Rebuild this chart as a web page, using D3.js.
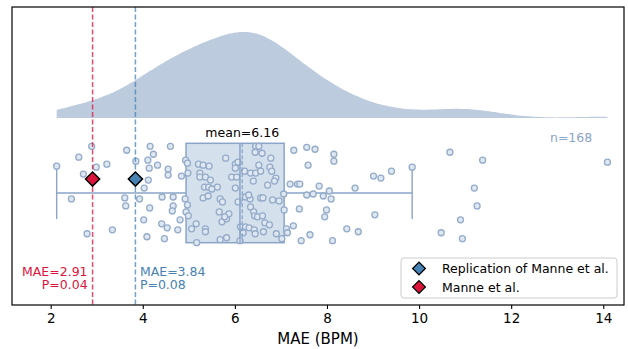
<!DOCTYPE html>
<html>
<head>
<meta charset="utf-8">
<script src="https://cdn.jsdelivr.net/npm/d3@7"></script>
<style>
  body { margin: 0; background: #fff; }
  svg { display: block; font-family: "DejaVu Sans", sans-serif; }
</style>
</head>
<body>
<div id="chart"></div>
<script>
// MAE per model (BPM)
const maeValues = [
  2.13, 2.61, 2.89, 2.71, 2.99, 3.22, 2.45, 2.79, 3.34, 3.65, 3.85, 4.16, 4.23, 4.60, 4.11, 4.14,
  4.32, 4.55, 4.55, 4.12, 4.03, 3.61, 3.63, 3.93, 4.15, 4.42, 4.66, 4.66, 4.64, 4.02, 4.41, 4.53,
  4.76, 4.81, 4.09, 4.47, 4.84, 4.93, 4.97, 4.92, 4.97, 4.94, 4.99, 5.17, 5.06, 5.36, 5.36, 5.16,
  5.31, 5.42, 5.21, 5.31, 5.44, 5.24, 5.24, 5.36, 5.47, 5.34, 5.43, 5.50, 5.62, 5.68, 5.73, 5.66,
  5.72, 5.82, 5.87, 5.68, 5.82, 5.80, 5.93, 6.04, 6.01, 6.01, 6.07, 6.07, 6.12, 6.11, 6.18, 6.23,
  6.31, 6.42, 6.45, 6.52, 6.44, 6.59, 6.78, 6.52, 6.76, 6.80, 6.34, 6.45, 6.56, 6.21, 6.40, 6.71,
  6.89, 6.86, 6.23, 6.33, 6.56, 6.61, 6.82, 6.96, 6.34, 6.41, 6.43, 6.49, 6.60, 6.65, 6.75, 6.44,
  6.62, 6.90, 7.02, 7.06, 7.07, 7.28, 7.56, 7.74, 7.59, 7.20, 7.36, 7.41, 7.56, 7.70, 7.40, 7.27,
  7.12, 7.14, 7.44, 7.63, 7.83, 8.15, 8.15, 7.92, 8.05, 8.09, 7.99, 7.95, 8.61, 8.43, 8.68, 8.12,
  9.01, 9.17, 9.40, 9.85, 9.04, 10.67, 11.38, 11.20, 11.26, 10.90, 10.94, 10.48, 14.09, 4.98, 6.01,
  6.30, 5.78
]
// vertical jitter of each point (box spans -0.5..0.5)
const jitter = [
  0.27, 0.36, 0.47, 0.19, 0.26, 0.29, -0.06, -0.41, -0.37, 0.43, 0.32, 0.47, 0.39, 0.47, 0.33, 0.25,
  0.28, 0.24, 0.18, 0.13, 0.05, -0.05, -0.13, -0.06, -0.15, -0.04, -0.04, -0.13, -0.18, -0.27, -0.31, -0.35,
  -0.37, -0.27, -0.44, -0.46, 0.17, 0.33, 0.30, -0.06, -0.12, -0.19, -0.23, -0.50, -0.36, -0.36, -0.39, -0.31,
  -0.05, -0.03, 0.29, 0.28, 0.27, 0.20, 0.16, 0.16, 0.13, 0.06, 0.06, 0.04, 0.06, -0.06, -0.09, -0.19,
  -0.29, -0.26, -0.21, -0.47, -0.45, 0.35, 0.16, 0.16, 0.05, 0.29, 0.31, -0.09, -0.34, -0.48, -0.40, -0.34,
  -0.35, -0.37, 0.47, 0.47, 0.41, 0.40, 0.35, 0.28, 0.26, 0.22, 0.20, 0.20, 0.22, 0.22, 0.12, 0.08,
  0.15, 0.12, -0.04, -0.06, -0.05, -0.05, -0.07, -0.08, -0.14, -0.19, -0.23, -0.24, -0.23, -0.30, -0.32, -0.41,
  -0.39, -0.41, -0.46, -0.01, -0.17, 0.43, 0.46, 0.44, 0.28, 0.09, 0.09, 0.09, -0.02, -0.01, -0.16, -0.33,
  -0.36, -0.40, -0.48, -0.42, 0.07, 0.39, 0.32, -0.03, 0.02, -0.06, -0.17, -0.24, 0.05, -0.36, -0.39, -0.48,
  0.17, 0.15, 0.22, 0.26, -0.22, 0.41, 0.33, 0.05, -0.13, -0.27, -0.46, -0.40, 0.31, 0.20, 0.25,
  -0.02, -0.24
]

// box summary as drawn
const boxStats = { min: 2.13, q1: 4.94, median: 6.11, q3: 7.07, max: 9.85, mean: 6.16 }
const nLabel = "n=168"

// reference results
const refNames = ["Replication of Manne et al.", "Manne et al."]
const refMae = [3.84, 2.91]
const refP = [0.08, 0.04]
const refColors = ["#4682b4", "#dc143c"]

const xTicks = [2, 4, 6, 8, 10, 12, 14]

const width = 628
const height = 349
const plot = { left: 12, right: 624, top: 7, bottom: 305 }

const svg = d3.select("#chart").append("svg")
  .attr("width", width)
  .attr("height", height)

const x = d3.scaleLinear().domain([1.16, 14.45]).range([plot.left, plot.right])
// strip/box band
const y = d3.scaleLinear().domain([-0.5, 0.5]).range([242.7, 143.3])

const lineCol = "#8aa5c8"

// KDE (gaussian, Scott bandwidth)
const n = maeValues.length
const sd = d3.deviation(maeValues)
const bw = sd * Math.pow(n, -0.2)
const lo = d3.min(maeValues), hi = d3.max(maeValues)
const grid = d3.range(0, 201).map(i => lo + (hi - lo) * i / 200)
const dens = grid.map(g => [g, d3.mean(maeValues, v => Math.exp(-0.5 * ((g - v) / bw) ** 2)) / (bw * Math.sqrt(2 * Math.PI))])
const yd = d3.scaleLinear().domain([0, d3.max(dens, d => d[1])]).range([118, 32])

svg.append("path")
  .datum(dens)
  .attr("fill", "#bccbdd")
  .attr("d", d3.area().x(d => x(d[0])).y0(yd(0)).y1(d => yd(d[1])).curve(d3.curveBasis))

// whiskers
const wy = y(0)
const capH = 26
svg.append("line").attr("x1", x(boxStats.min)).attr("x2", x(boxStats.q1)).attr("y1", wy).attr("y2", wy)
  .attr("stroke", lineCol).attr("stroke-width", 1.4)
svg.append("line").attr("x1", x(boxStats.q3)).attr("x2", x(boxStats.max)).attr("y1", wy).attr("y2", wy)
  .attr("stroke", lineCol).attr("stroke-width", 1.4)
;[boxStats.min, boxStats.max].forEach(v => {
  svg.append("line").attr("x1", x(v)).attr("x2", x(v)).attr("y1", wy - capH).attr("y2", wy + capH)
    .attr("stroke", lineCol).attr("stroke-width", 1.4)
})

// box
svg.append("rect")
  .attr("x", x(boxStats.q1)).attr("y", y(0.5))
  .attr("width", x(boxStats.q3) - x(boxStats.q1))
  .attr("height", y(-0.5) - y(0.5))
  .attr("fill", "#d5e0ed")
  .attr("stroke", lineCol).attr("stroke-width", 1.5)

// points
svg.append("g").selectAll("circle")
  .data(maeValues)
  .join("circle")
  .attr("cx", d => x(d))
  .attr("cy", (d, i) => y(jitter[i]))
  .attr("r", 3)
  .attr("fill", "#dfe7f1")
  .attr("stroke", "#94abca")
  .attr("stroke-width", 1.3)

// median and mean
svg.append("line").attr("x1", x(boxStats.median)).attr("x2", x(boxStats.median))
  .attr("y1", y(0.5)).attr("y2", y(-0.5)).attr("stroke", lineCol).attr("stroke-width", 1.5)
svg.append("line").attr("x1", x(boxStats.mean)).attr("x2", x(boxStats.mean))
  .attr("y1", y(0.5)).attr("y2", y(-0.5)).attr("stroke", lineCol).attr("stroke-width", 1.3)
  .attr("stroke-dasharray", "4,2")

svg.append("text")
  .attr("x", x(boxStats.mean)).attr("y", 136.5)
  .attr("text-anchor", "middle").attr("font-size", "12.5px").attr("fill", "#000")
  .text("mean=" + boxStats.mean.toFixed(2))

svg.append("text")
  .attr("x", x(13.76)).attr("y", 141.5)
  .attr("text-anchor", "end").attr("font-size", "12.5px").attr("fill", lineCol)
  .text(nLabel)

// reference lines, labels, diamonds
const diamond = d3.symbol().type(d3.symbolDiamond2 || d3.symbolSquare)
refMae.forEach((v, i) => {
  svg.append("line")
    .attr("x1", x(v)).attr("x2", x(v)).attr("y1", plot.top).attr("y2", plot.bottom)
    .attr("stroke", refColors[i]).attr("stroke-opacity", 0.75)
    .attr("stroke-width", 1.5).attr("stroke-dasharray", "5,2.5")
  const left = i === 1
  const t = svg.append("text")
    .attr("text-anchor", left ? "end" : "start")
    .attr("font-size", "12.5px").attr("fill", refColors[i])
  const tx = left ? x(v) - 5 : x(v) + 4.5
  t.append("tspan").attr("x", tx).attr("y", 275.7).text("MAE=" + v.toFixed(2))
  t.append("tspan").attr("x", tx).attr("y", 289.3).text("P=" + refP[i].toFixed(2))
})
refMae.forEach((v, i) => {
  svg.append("rect")
    .attr("x", -5).attr("y", -5).attr("width", 10).attr("height", 10)
    .attr("transform", `translate(${x(v)},${y(0.14)}) rotate(45)`)
    .attr("fill", refColors[i]).attr("stroke", "#000").attr("stroke-width", 1.5)
})

// axes frame
svg.append("rect")
  .attr("x", plot.left).attr("y", plot.top)
  .attr("width", plot.right - plot.left).attr("height", plot.bottom - plot.top)
  .attr("fill", "none").attr("stroke", "#000").attr("stroke-width", 1.2)

const xAxis = svg.append("g")
  .attr("transform", `translate(0,${plot.bottom})`)
  .call(d3.axisBottom(x).tickValues(xTicks).tickSize(4).tickPadding(4).tickFormat(d3.format("d")))
xAxis.select(".domain").remove()
xAxis.selectAll("text").attr("font-size", "13.5px").attr("fill", "#000").attr("font-family", "DejaVu Sans")
xAxis.selectAll("line").attr("stroke", "#000").attr("stroke-width", 1.1)

svg.append("text")
  .attr("x", (plot.left + plot.right) / 2).attr("y", 344)
  .attr("text-anchor", "middle").attr("font-size", "15px").attr("fill", "#000")
  .text("MAE (BPM)")

// legend
const lg = svg.append("g").attr("transform", "translate(401,258)")
lg.append("rect").attr("width", 216).attr("height", 40).attr("rx", 3)
  .attr("fill", "#fff").attr("fill-opacity", 0.85).attr("stroke", "#ccc")
refNames.forEach((name, i) => {
  const ly = 10.5 + i * 18.5
  lg.append("rect")
    .attr("x", -4.5).attr("y", -4.5).attr("width", 9).attr("height", 9)
    .attr("transform", `translate(18,${ly}) rotate(45)`)
    .attr("fill", refColors[i]).attr("stroke", "#000").attr("stroke-width", 1.3)
  lg.append("text").attr("x", 41).attr("y", ly + 4.5)
    .attr("font-size", "12.5px").attr("fill", "#000").text(name)
})
</script>
</body>
</html>
